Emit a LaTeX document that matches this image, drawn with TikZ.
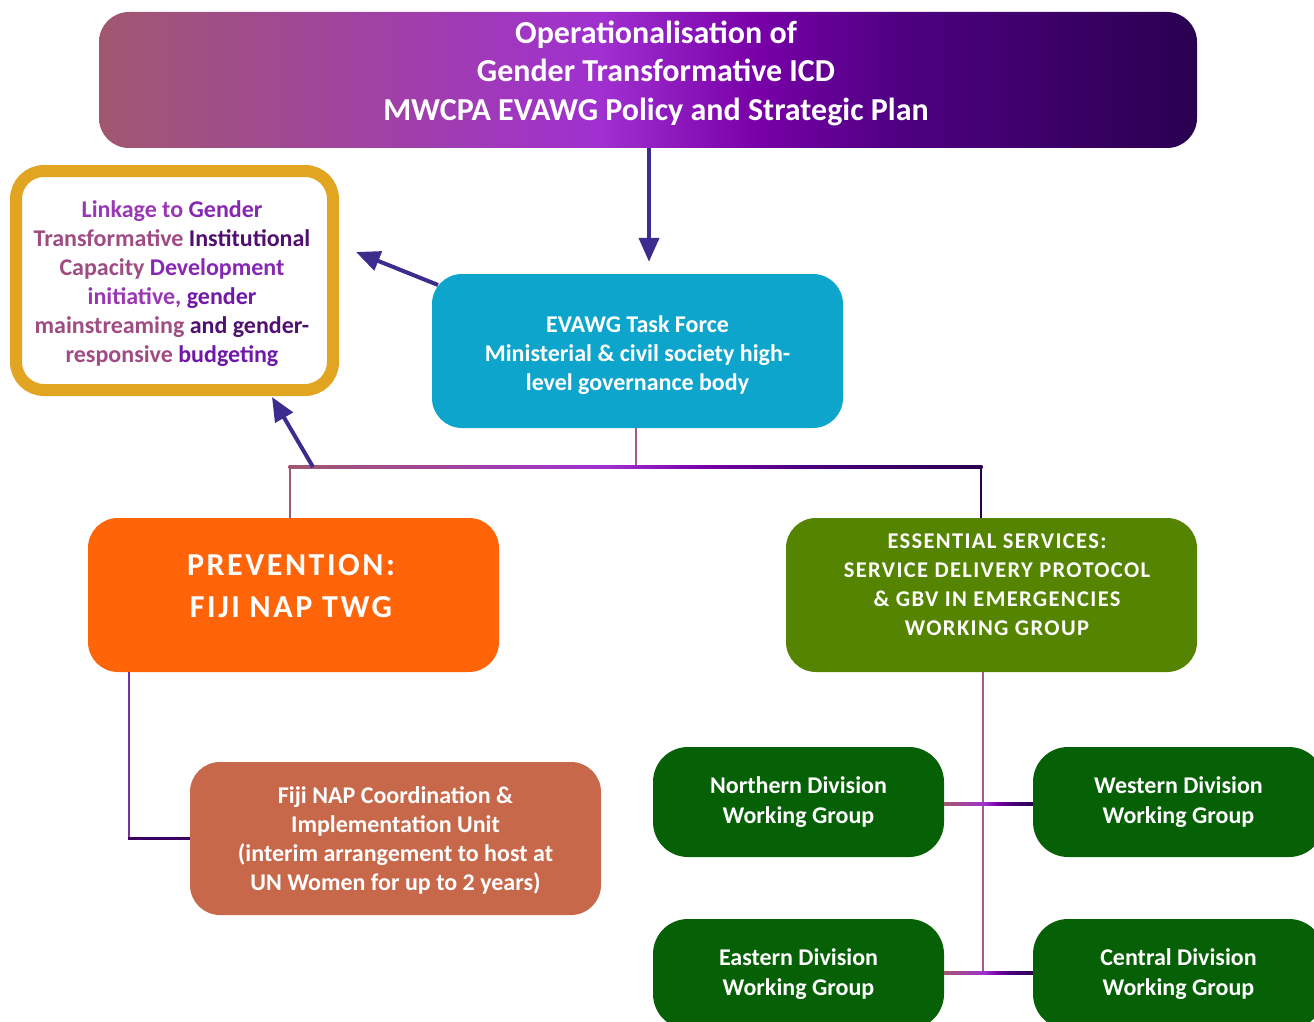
\documentclass[tikz,border=0pt]{standalone}
\usepackage{fontspec}
\setmainfont{Carlito}
\newfontfamily\capsf{Carlito}[LetterSpace=8]
\newfontfamily\capsg{Carlito}[LetterSpace=6]
\usetikzlibrary{arrows.meta}
\definecolor{g0}{HTML}{A05870}
\definecolor{g1}{HTML}{A04894}
\definecolor{g2}{HTML}{A030D0}
\definecolor{g3}{HTML}{7800A8}
\definecolor{g4}{HTML}{4E0080}
\definecolor{g5}{HTML}{2A0050}
\definecolor{gold}{HTML}{E2A521}
\definecolor{cyanbox}{HTML}{0EA5CC}
\definecolor{orangebox}{HTML}{FF6508}
\definecolor{olivebox}{HTML}{558500}
\definecolor{terra}{HTML}{C8684A}
\definecolor{dgreen}{HTML}{066006}
\definecolor{arrowc}{HTML}{3B2C8E}
\definecolor{mauve}{HTML}{A05C84}
\definecolor{lnkA}{HTML}{A04C84}
\definecolor{lnkB}{HTML}{9A38B4}
\definecolor{lnkC}{HTML}{8628B4}
\definecolor{lnkD}{HTML}{7018A8}
\definecolor{lnkE}{HTML}{501070}
\definecolor{vpurp}{HTML}{7A30A0}
\definecolor{darkln}{HTML}{3A0060}
\pgfdeclarehorizontalshading{purpgrad}{100bp}{color(0bp)=(g0); color(25bp)=(g0); color(34bp)=(g1); color(47.8bp)=(g2); color(55bp)=(g3); color(61.5bp)=(g4); color(75bp)=(g5); color(100bp)=(g5)}
\begin{document}
\begin{tikzpicture}[x=1pt,y=-1pt,
  box/.style={rounded corners=30pt, inner sep=0pt, align=center, text=white, font=\bfseries\fontsize{24}{29}\selectfont},
  divbox/.style={box, fill=dgreen, rounded corners=35pt, minimum width=291pt, minimum height=110pt, font=\bfseries\fontsize{24}{29.5}\selectfont},
  arr/.style={draw=arrowc, line width=4pt, -{Triangle[length=24pt,width=20pt]}},
  conn/.style={line width=2.6pt}
]
\useasboundingbox (0,0) rectangle (1314,1022);
\clip (0,0) rectangle (1314,1022);

% title
\node[box, shade, shading=purpgrad, minimum width=1098pt, minimum height=136pt] (title) at (648,80) {};
\node[box, font=\bfseries\fontsize{32}{38.5}\selectfont] (titletext) at (656,73)
  {Operationalisation of\\Gender Transformative ICD\\MWCPA EVAWG Policy and Strategic Plan};

% linkage box
\node[draw=gold, line width=12pt, fill=white, rounded corners=28pt, inner sep=0pt,
  minimum width=317pt, minimum height=219pt] (link) at (174.5,280.5) {};
\node[align=center, inner sep=0pt, font=\bfseries\fontsize{24}{29}\selectfont] (linktext) at (172,284)
  {{\color{lnkB}Linkage to} {\color{lnkC}Gender}\\
   {\color{lnkA}Transformative} {\color{lnkE}Institutional}\\
   {\color{lnkA}Capacity} {\color{lnkC}Development}\\
   {\color{lnkB}initiative,} {\color{lnkD}gender}\\
   {\color{lnkA}mainstreaming} {\color{lnkE}and gender-}\\
   {\color{lnkA}responsive} {\color{lnkD}budgeting}};

% task force
\node[box, fill=cyanbox, minimum width=411pt, minimum height=154pt] (ev) at (637.5,351) {};
\node[box] (evtext) at (637.5,355)
  {EVAWG Task Force\\Ministerial \& civil society high-\\level governance body};

% prevention
\node[box, fill=orangebox, minimum width=411pt, minimum height=154pt] (prev) at (293.5,595) {};
\node[box, font=\capsf\bfseries\fontsize{32}{42}\selectfont] (prevtext) at (291,586) {PREVENTION:\\FIJI NAP TWG};

% essential services
\node[box, fill=olivebox, minimum width=411pt, minimum height=154pt] (es) at (991.5,595) {};
\node[box, font=\capsg\bfseries\fontsize{22.5}{29}\selectfont] (estext) at (997,585)
  {ESSENTIAL SERVICES:\\SERVICE DELIVERY PROTOCOL\\\& GBV IN EMERGENCIES\\WORKING GROUP};

% Fiji NAP unit
\node[box, fill=terra, minimum width=411pt, minimum height=153pt] (fiji) at (395.5,838.5) {};
\node[box] (fijitext) at (395.5,840.5)
  {Fiji NAP Coordination \&\\Implementation Unit\\(interim arrangement to host at\\UN Women for up to 2 years)};

% divisions
\node[divbox] (north) at (798.5,802) {Northern Division\\Working Group};
\node[divbox] (west) at (1178.5,802) {Western Division\\Working Group};
\node[divbox] (east) at (798.5,974) {Eastern Division\\Working Group};
\node[divbox] (cent) at (1178.5,974) {Central Division\\Working Group};

% connector coordinates
\coordinate (busL) at (290,467);
\coordinate (busM) at (636,467);
\coordinate (busR) at (981,467);
\coordinate (p2) at (129,838.5);
\coordinate (d1) at (983,804);
\coordinate (d2) at (983,973);
\coordinate (a2s) at (438,285);
\coordinate (a2e) at (356,252);
\coordinate (a3s) at (313,467);
\coordinate (a3e) at (272,397);

% bus connectors
\draw[conn, draw=mauve] (busM |- ev.south) -- (busM);
\draw[conn, draw=g0] (busL) -- (busL |- prev.north);
\draw[conn, draw=g5] (busR) -- (busR |- es.north);
\shade[shading=purpgrad] ([xshift=-1.3pt,yshift=1.3pt]busL) rectangle ([xshift=1.3pt,yshift=-1.3pt]busR);

% prevention to Fiji unit
\draw[conn, draw=vpurp] (p2 |- prev.south) -- (p2);
\draw[conn, draw=darkln] ([xshift=-1.3pt]p2) -- (fiji.west);

% essential services to divisions
\draw[conn, draw=mauve] (d1 |- es.south) -- (d2);
\shade[shading=purpgrad] ([yshift=1.3pt]north.east |- d1) rectangle ([yshift=-1.3pt]west.west |- d1);
\shade[shading=purpgrad] ([yshift=1.3pt]east.east |- d2) rectangle ([yshift=-1.3pt]cent.west |- d2);

% arrows
\draw[arr] (title.south -| 649,0) -- ([yshift=12pt]ev.north -| 649,0);
\draw[arr] (a2s) -- (a2e);
\draw[arr] (a3s) -- (a3e);
\end{tikzpicture}
\end{document}
